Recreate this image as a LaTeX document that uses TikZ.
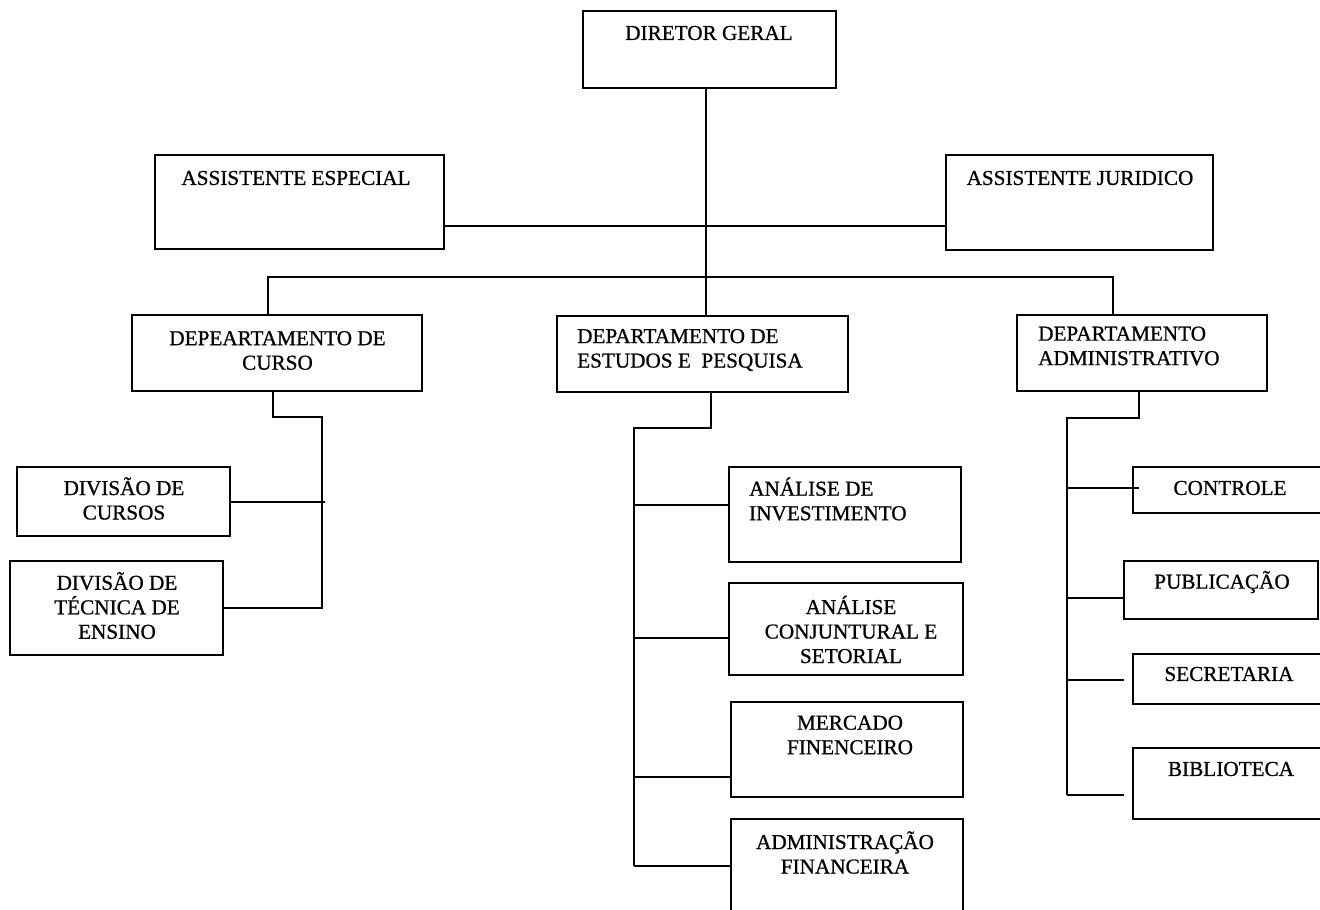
\documentclass[tikz,border=0pt]{standalone}
\usepackage{fontspec}
\setmainfont{Liberation Serif}[FakeBold=0.8]
\usetikzlibrary{calc,positioning}

\begin{document}
\begin{tikzpicture}[x=1pt,y=-1pt,
  box/.style={draw,line width=2pt,inner sep=0pt},
  txt/.style={inner sep=0pt,align=center,font=\fontsize{21.2}{24.5}\selectfont},
  link/.style={line width=2pt}]
\fill[white] (0,0) rectangle (1320,910);
\useasboundingbox (0,0) rectangle (1320,910);

% boxes
\node at (709.5,49.5) (DG) [box,minimum width=253pt,minimum height=77pt] {};
\node at (299.5,202) (AE) [box,minimum width=289pt,minimum height=94pt] {};
\node at (1079.5,202.5) (AJ) [box,minimum width=267pt,minimum height=95pt] {};
\node at (277,353) (DC) [box,minimum width=290pt,minimum height=76pt] {};
\node at (702.5,354) (DEP) [box,minimum width=291pt,minimum height=76pt] {};
\node at (1142,353) (DA) [box,minimum width=250pt,minimum height=76pt] {};
\node at (123.5,501.5) (DVC) [box,minimum width=213pt,minimum height=69pt] {};
\node at (116.5,608) (DVT) [box,minimum width=213pt,minimum height=94pt] {};
\node at (845,514.5) (AI) [box,minimum width=232pt,minimum height=95pt] {};
\node at (846,629) (ACS) [box,minimum width=234pt,minimum height=92pt] {};
\node at (847,749.5) (MF) [box,minimum width=232pt,minimum height=95pt] {};
\node at (847,872) (AF) [box,minimum width=232pt,minimum height=106pt] {};
\node at (1231.5,490) (CTL) [box,minimum width=197pt,minimum height=46pt] {};
\node at (1221,590) (PUB) [box,minimum width=194pt,minimum height=58pt] {};
\node at (1231.5,679) (SEC) [box,minimum width=197pt,minimum height=50pt] {};
\node at (1231.5,783.5) (BIB) [box,minimum width=197pt,minimum height=71pt] {};

% texts
\node at (709,33) (DGt) [txt] {DIRETOR GERAL};
\node at (296,178) (AEt) [txt] {ASSISTENTE ESPECIAL};
\node at (1080,178) (AJt) [txt] {ASSISTENTE JURIDICO};
\node at (277.5,350.5) (DCt) [txt] {DEPEARTAMENTO DE\\CURSO};
\node at (577,350) (DEPt) [txt,anchor=west,align=left] {DEPARTAMENTO DE\\ESTUDOS E~ PESQUISA};
\node at (1038,346) (DAt) [txt,anchor=west,align=left] {DEPARTAMENTO\\ADMINISTRATIVO};
\node at (124,498.5) (DVCt) [txt] {DIVISÃO DE\\CURSOS};
\node at (117,605.5) (DVTt) [txt] {DIVISÃO DE\\TÉCNICA DE\\ENSINO};
\node at (749,499) (AIt) [txt,anchor=west,align=left] {ANÁLISE DE\\INVESTIMENTO};
\node at (851,629.5) (ACSt) [txt] {ANÁLISE\\CONJUNTURAL E\\SETORIAL};
\node at (850,735) (MFt) [txt] {MERCADO\\FINENCEIRO};
\node at (845,852.5) (AFt) [txt] {ADMINISTRAÇÃO\\FINANCEIRA};
\node at (1230,488) (CTLt) [txt] {CONTROLE};
\node at (1222,582) (PUBt) [txt] {PUBLICAÇÃO};
\node at (1229,674) (SECt) [txt] {SECRETARIA};
\node at (1231,769) (BIBt) [txt] {BIBLIOTECA};

% junctions
\coordinate (bus) at (700,277);
\coordinate (cjoint) at (322,417);
\coordinate (ejoint) at (634,428);
\coordinate (ajoint) at (1067,418);

% top level
\draw[link] ([xshift=-4pt]DG.south) -- ([xshift=-4pt]DG.south |- DEP.north);
\draw[link] ([yshift=-24pt]AE.east) -- ([yshift=-24pt]AE.east -| AJ.west);
\draw[link] ([xshift=-9pt]DC.north) |- (bus) -| ([xshift=-29pt]DA.north);

% curso
\draw[link] ([xshift=-4pt]DC.south) |- (cjoint) |- (DVT.east);
\draw[link] (DVC.east) -- ([xshift=3pt]DVC.east -| cjoint);

% estudos
\draw[link] ([xshift=8.5pt]DEP.south) |- (ejoint) -- (ejoint |- 0,866);
\foreach \n/\y in {AI/505,ACS/638,MF/777,AF/866}
  \draw[link] (ejoint |- 0,\y) -- (\n.west |- 0,\y);

% administrativo
\draw[link] ([xshift=-3pt]DA.south) |- (ajoint) -- (ajoint |- 0,795);
\foreach \n/\y/\dx in {CTL/488/7,PUB/598/0,SEC/680/-8,BIB/795/-8}
  \draw[link] (ajoint |- 0,\y) -- ([xshift=\dx pt]\n.west |- 0,\y);
\end{tikzpicture}
\end{document}
